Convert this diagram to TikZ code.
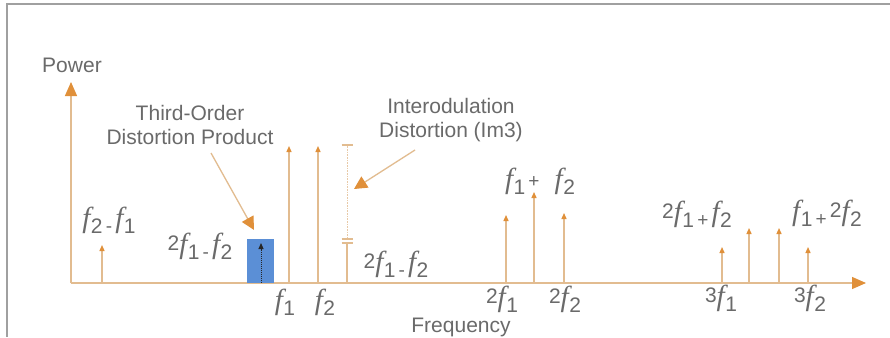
\documentclass[tikz,border=0pt]{standalone}
\usepackage{fontspec}
\setmainfont{Liberation Sans}
\newfontfamily\ffi{Liberation Serif}[UprightFont=* Italic]
\usetikzlibrary{arrows.meta}
\definecolor{stemc}{HTML}{E2BC90}
\definecolor{headc}{HTML}{E0903A}
\definecolor{txtc}{HTML}{6A6A6A}
\definecolor{boxc}{HTML}{5B8FD6}
\definecolor{framec}{HTML}{A0A0A0}
\newcommand\fv{{\fontsize{29}{29}\selectfont\ffi f}}
\newcommand\fq[1]{\fv\kern0.5pt\raisebox{-6pt}{\fontsize{21}{21}\selectfont #1}}
\newcommand\cf[1]{\raisebox{3pt}{\fontsize{21}{21}\selectfont #1}}
\newcommand\op[1]{\fontsize{19}{19}\selectfont\raisebox{-5pt}{\,#1\,}}
\begin{document}
\begin{tikzpicture}[x=1pt,y=-1pt,
  stem/.style={draw=stemc,line width=1.3pt,-{Triangle[width=5pt,length=6pt,color=headc]}},
  axis/.style={draw=stemc,line width=1.3pt,-{Triangle[width=12pt,length=14pt,color=headc]}},
  note/.style={draw=stemc,line width=1.3pt,-{Triangle[width=13pt,length=13pt,color=headc]}},
  txt/.style={text=txtc,font=\fontsize{21}{24}\selectfont,inner sep=0pt},
  lab/.style={text=txtc,inner sep=0pt},
  tick/.style={draw=stemc,line width=1.2pt}]
\useasboundingbox (0,0) rectangle (890,337);
\fill[white] (0,0) rectangle (890,337);
% frame
\coordinate (fr0) at (7,4);
\coordinate (fr1) at (890,4);
\coordinate (fr2) at (7,337);
\draw[framec,line width=1.5pt] (fr1) -- (fr0) -- (fr2);
% axes
\coordinate (O) at (71,283);
\coordinate (Y) at (71,82);
\coordinate (X) at (866,283);
\draw[axis] (O) -- (Y);
\draw[axis] (O) -- (X);
\node[txt] (power) at (72,65) {Power};
\node[txt] (freq) at (461,327) {Frequency};
% blue box
\node[fill=boxc,minimum width=27pt,minimum height=44pt,inner sep=0pt,anchor=south west] (box) at (247,283) {};
\coordinate (bb) at (261,283);
\coordinate (bt) at (261,243);
\draw[black!85,line width=1pt,densely dotted,-{Triangle[width=5pt,length=6pt]}] (bb) -- (bt);
% stems
\foreach \n/\x/\t in {a/102/245, b/289/146, c/318/146, d/506/215, e/534/192, f/564/213, g/722/247, h/749/228, i/779/228, j/808/247}{
  \coordinate (s\n b) at (\x,283);
  \coordinate (s\n t) at (\x,\t);
  \draw[stem] (s\n b) -- (s\n t);
}
% Im3 marker
\coordinate (ima) at (347,283);
\coordinate (imb) at (347,243);
\coordinate (imc) at (347,239);
\coordinate (imd) at (347,145);
\draw[stemc,line width=1.3pt] (ima) -- (imb);
\draw[stemc!80,line width=0.6pt,densely dotted] (imc) -- (imd);
\draw[tick] ([xshift=-5.5pt]imb) -- ([xshift=5.5pt]imb);
\draw[tick] ([xshift=-5.5pt]imc) -- ([xshift=5.5pt]imc);
\draw[tick] ([xshift=-5.5pt]imd) -- ([xshift=5.5pt]imd);
% annotation texts
\node[txt,align=center] (tod) at (190,125) {Third-Order\\Distortion Product};
\node[txt,align=center] (imt) at (451,120) {Interodulation\\Distortion (Im3)};
\coordinate (toda) at (211,153);
\coordinate (todb) at (254,230);
\draw[note] (toda) -- (todb);
\coordinate (ima1) at (415,150);
\coordinate (ima2) at (354,189);
\draw[note] (ima1) -- (ima2);
% labels
\node[lab] (l1) at (109,220) {\fq{2}\op{-}\fq{1}};
\node[lab] (l2) at (200,246) {\cf{2}\fq{1}\op{-}\fq{2}};
\node[lab] (l3) at (285,302) {\fq{1}};
\node[lab] (l4) at (325,302) {\fq{2}};
\node[lab] (l5) at (396,264) {\cf{2}\fq{1}\op{-}\fq{2}};
\node[lab] (l6) at (540,181) {\fq{1}\raisebox{6pt}{\op{+}}\kern12pt\fq{2}};
\node[lab] (l7) at (502,299) {\cf{2}\fq{1}};
\node[lab] (l8) at (565,299) {\cf{2}\fq{2}};
\node[lab] (l9) at (697,214) {\cf{2}\fq{1}\op{+}\fq{2}};
\node[lab] (l10) at (827,213) {\fq{1}\op{+}\cf{2}\fq{2}};
\node[lab] (l11) at (721,298) {\cf{3}\fq{1}};
\node[lab] (l12) at (810,298) {\cf{3}\fq{2}};
\end{tikzpicture}
\end{document}
